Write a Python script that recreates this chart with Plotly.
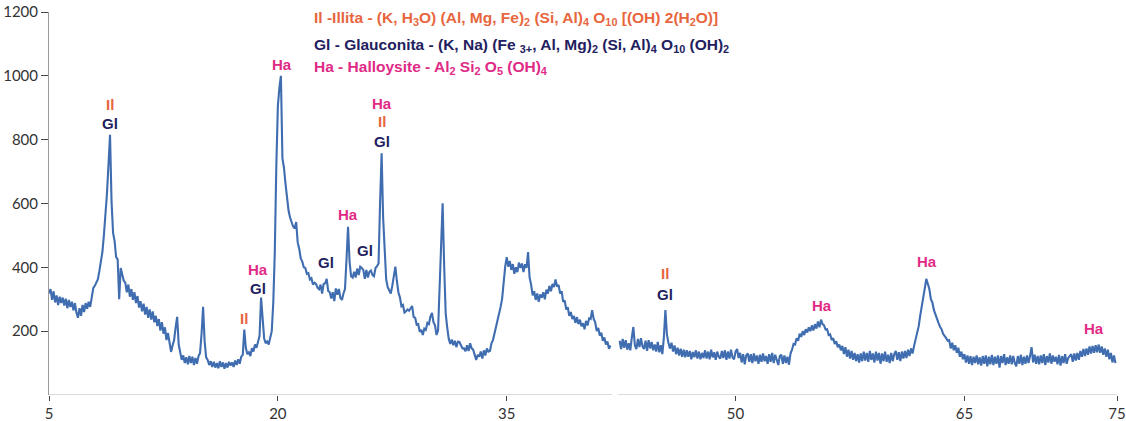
import numpy as np
import plotly.graph_objects as go

# ---------------- data ----------------
# XRD scan, part 1: 2-theta 5.0 .. 41.8 deg, step 0.1
SEG1_START = 5.0
SEG1_COUNTS = [
    318, 332, 298, 325, 290, 312, 282, 308, 288, 305,
    280, 302, 272, 298, 276, 292, 265, 288, 258, 242,
    272, 248, 282, 260, 288, 270, 292, 276, 305, 335,
    342, 355, 362, 388, 412, 448, 502, 562, 632, 722,
    815, 605, 508, 482, 432, 425, 300, 398, 372, 358,
    352, 322, 346, 308, 332, 298, 322, 288, 310, 274,
    294, 262, 286, 252, 276, 242, 268, 236, 262, 228,
    248, 216, 238, 202, 228, 192, 212, 172, 194, 158,
    135, 155, 172, 212, 245, 158, 128, 110, 124, 100,
    118, 96, 122, 100, 120, 94, 116, 98, 122, 132,
    192, 276, 168, 118, 110, 94, 106, 88, 104, 86,
    100, 84, 106, 88, 102, 82, 100, 86, 104, 92,
    102, 88, 108, 94, 112, 98, 120, 126, 205, 148,
    128, 134, 122, 147, 136, 158, 148, 170, 185, 305,
    228, 178, 162, 168, 158, 178, 200, 290, 450, 720,
    905, 962, 1000, 742, 712, 662, 618, 578, 556, 540,
    528, 522, 542, 478, 458, 428, 418, 400, 398, 380,
    382, 362, 366, 346, 352, 348, 336, 331, 346, 318,
    348, 350, 364, 326, 322, 302, 322, 294, 334, 314,
    332, 304, 298, 318, 332, 425, 527, 418, 372, 368,
    386, 368, 396, 376, 402, 398, 392, 364, 392, 368,
    386, 390, 376, 372, 398, 404, 412, 602, 757, 555,
    448, 362, 338, 328, 318, 342, 368, 402, 358, 322,
    306, 278, 282, 258, 262, 268, 264, 274, 279, 244,
    242, 220, 222, 198, 204, 188, 208, 204, 226, 222,
    246, 257, 228, 218, 188, 202, 318, 482, 601, 405,
    255, 212, 176, 160, 174, 156, 170, 150, 167, 166,
    156, 146, 146, 137, 156, 138, 162, 146, 142, 124,
    110, 126, 120, 136, 114, 140, 124, 146, 136, 138,
    162, 172, 192, 214, 228, 252, 276, 302, 362, 402,
    432, 402, 420, 392, 410, 380, 400, 385, 415, 398,
    412, 385, 410, 398, 448, 368, 345, 312, 325, 298,
    318, 292, 315, 305, 322, 300, 330, 318, 342, 325,
    348, 338, 362, 340, 345, 318, 325, 292, 296, 268,
    275, 248, 260, 238, 248, 226, 244, 222, 236, 215,
    225, 206, 232, 218, 240, 238, 266, 238, 228, 200,
    210, 186, 195, 170, 180, 158, 168, 145, 155,
]

# XRD scan, part 2: 2-theta 42.4 .. 74.9 deg, step 0.1
SEG2_START = 42.4
SEG2_COUNTS = [
    170, 144, 176, 148, 172, 142,
    162, 140, 180, 213, 156, 144, 176, 150, 178, 152,
    144, 170, 138, 172, 146, 166, 140, 158, 136, 166,
    134, 156, 128, 180, 266, 190, 164, 146, 164, 136,
    155, 128, 148, 124, 145, 120, 142, 118, 140, 120,
    138, 112, 135, 118, 140, 114, 136, 112, 132, 116,
    140, 114, 136, 112, 142, 118, 134, 110, 136, 120,
    114, 138, 116, 140, 110, 136, 114, 142, 118, 112,
    136, 144, 116, 132, 102, 128, 96, 124, 130, 104,
    128, 100, 130, 106, 124, 98, 126, 104, 130, 106,
    122, 98, 128, 104, 132, 100, 126, 106, 94, 122,
    126, 98, 124, 100, 120, 95, 130, 142, 160, 158,
    178, 170, 192, 182, 200, 188, 206, 196, 212, 200,
    218, 202, 222, 208, 230, 212, 236, 222, 218, 205,
    206, 188, 190, 172, 178, 160, 168, 150, 158, 140,
    154, 128, 150, 120, 142, 114, 138, 110, 132, 106,
    128, 102, 130, 106, 136, 108, 132, 104, 138, 110,
    130, 102, 136, 108, 132, 98, 130, 106, 136, 104,
    126, 100, 132, 106, 128, 138, 110, 134, 106, 136,
    114, 138, 116, 142, 122, 146, 130, 154, 172, 198,
    215, 248, 280, 316, 334, 364, 344, 332, 300, 290,
    266, 252, 234, 226, 214, 206, 192, 186, 178, 170,
    172, 146, 164, 140, 156, 132, 148, 120, 136, 112,
    128, 102, 124, 98, 122, 94, 120, 100, 124, 96,
    118, 92, 122, 98, 124, 90, 120, 96, 126, 94,
    120, 98, 124, 86, 122, 100, 128, 94, 118, 98,
    124, 96, 122, 100, 90, 122, 98, 126, 94, 120,
    98, 124, 100, 122, 150, 102, 126, 98, 122, 96,
    124, 100, 128, 94, 122, 102, 130, 98, 124, 104,
    120, 96, 126, 92, 122, 100, 128, 98, 116, 122,
    128, 104, 130, 108, 132, 110, 138, 120, 144, 122,
    146, 126, 152, 130, 154, 132, 156, 134, 158, 132,
    152, 126, 146, 120, 142, 112, 132, 102, 124, 100,
]
SCAN_STEP = 0.1

X_TICKS = [5, 20, 35, 50, 65, 75]
Y_TICKS = [200, 400, 600, 800, 1000, 1200]
AXIS_BREAK = [41.9, 42.3]

# peak labels: (text, 2-theta, counts)
PEAK_LABELS = [
    ("Il", 8.99, 910), ("Gl", 8.99, 852),
    ("Il", 17.75, 241),
    ("Ha", 18.73, 392), ("Gl", 18.67, 335),
    ("Ha", 20.30, 1034),
    ("Gl", 23.18, 414),
    ("Ha", 24.62, 564),
    ("Gl", 25.73, 454),
    ("Ha", 26.84, 913), ("Il", 26.84, 857), ("Gl", 26.84, 794),
    ("Il", 45.35, 382), ("Gl", 45.35, 316),
    ("Ha", 55.69, 279),
    ("Ha", 62.55, 417),
    ("Ha", 73.48, 207),
]

COLORS = {"Il": "#e8663e", "Gl": "#22205e", "Ha": "#df2a86"}
LINE_COLOR = "#3f6db0"

LEGEND_LINES = [
    ("Il", "Il -Illita - (K, H<sub>3</sub>O) (Al, Mg, Fe)<sub>2</sub> (Si, Al)<sub>4</sub> O<sub>10</sub> [(OH) 2(H<sub>2</sub>O)]"),
    ("Gl", "Gl - Glauconita - (K, Na) (Fe <sub>3+</sub>, Al, Mg)<sub>2</sub> (Si, Al)<sub>4</sub> O<sub>10</sub> (OH)<sub>2</sub>"),
    ("Ha", "Ha - Halloysite - Al<sub>2</sub> Si<sub>2</sub> O<sub>5</sub> (OH)<sub>4</sub>"),
]

# ---------------- figure ----------------
seg1_theta = np.round(SEG1_START + SCAN_STEP * np.arange(len(SEG1_COUNTS)), 2).tolist()
seg2_theta = np.round(SEG2_START + SCAN_STEP * np.arange(len(SEG2_COUNTS)), 2).tolist()

x = seg1_theta + [None] + seg2_theta
y = SEG1_COUNTS + [None] + SEG2_COUNTS

fig = go.Figure()
fig.add_trace(go.Scatter(
    x=x, y=y, mode="lines", connectgaps=False,
    line=dict(color=LINE_COLOR, width=2.1),
    hoverinfo="skip",
))

FONT = "Liberation Sans"
for text, xv, yv in PEAK_LABELS:
    fig.add_annotation(
        x=xv, y=yv, text=f"<b>{text}</b>", showarrow=False,
        font=dict(family=FONT, size=15, color=COLORS[text]),
        xanchor="center", yanchor="middle",
    )

legend_y = [0.983, 0.913, 0.856]
for (mineral, txt), ly in zip(LEGEND_LINES, legend_y):
    fig.add_annotation(
        xref="paper", yref="paper", x=0.2467, y=ly,
        text=f"<b>{txt}</b>", showarrow=False, align="left",
        xanchor="left", yanchor="middle",
        font=dict(family=FONT, size=15.5, color=COLORS[mineral]),
    )

# broken x-axis line
x0, x1 = X_TICKS[0], X_TICKS[-1]
for a, b in [(x0, AXIS_BREAK[0]), (AXIS_BREAK[1], x1)]:
    fig.add_shape(type="line", xref="x", yref="y", x0=a, x1=b, y0=0, y1=0,
                  line=dict(color="#b5b5b5", width=1), layer="below")

fig.update_layout(
    width=1126, height=421,
    margin=dict(l=49, r=9, t=12, b=26, autoexpand=False),
    plot_bgcolor="white", paper_bgcolor="white",
    showlegend=False,
    xaxis=dict(
        range=[x0, x1], tickvals=X_TICKS, ticktext=[str(v) for v in X_TICKS],
        showline=False, showgrid=False, zeroline=False, automargin=False,
        ticks="outside", ticklen=5, tickcolor="#444", tickwidth=1,
        ticklabeloverflow="allow",
        tickfont=dict(family="Lato", size=15, color="#333"),
    ),
    yaxis=dict(
        range=[0, 1200], tickvals=Y_TICKS, automargin=False,
        showline=True, linecolor="#9a9a9a", linewidth=1,
        showgrid=False, zeroline=False,
        ticks="outside", ticklen=7, tickcolor="#444", tickwidth=1.2,
        tickfont=dict(family="Lato", size=15, color="#333"),
    ),
)

fig.write_html("out.html")
